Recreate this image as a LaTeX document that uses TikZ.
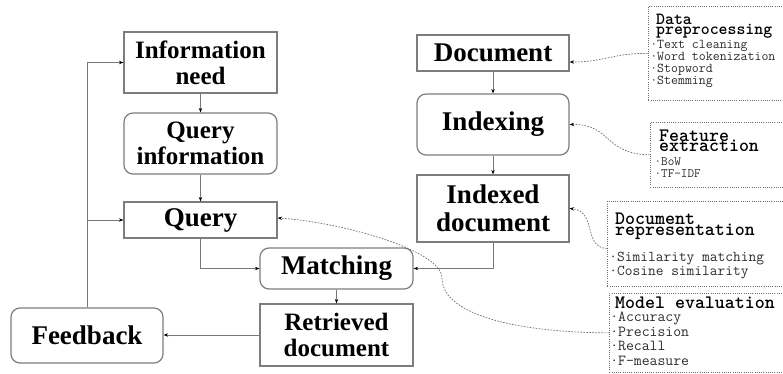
\documentclass[tikz,border=0pt]{standalone}
\usepackage{fontspec}
\setmainfont{Liberation Serif}
\newfontfamily\monoreg{Latin Modern Mono}
\newfontfamily\monobold{lmmonolt10-bold.otf}
\usetikzlibrary{arrows.meta}
\definecolor{boxgray}{RGB}{125,125,125}
\definecolor{linegray}{RGB}{120,120,120}
\definecolor{dotgray}{RGB}{110,110,110}
\definecolor{itemgray}{RGB}{45,45,45}
\newcommand\monof[2]{\monoreg\fontsize{#1}{#2}\selectfont\lineskiplimit=-50pt\relax}
\newcommand\monoh[2]{\monobold\fontsize{#1}{#2}\selectfont\lineskiplimit=-50pt\relax}
\begin{document}
\begin{tikzpicture}[x=1pt,y=-1pt,
  box/.style={draw=boxgray, line width=1.2pt, minimum width=153pt, inner sep=0pt, align=center},
  rbox/.style={box, rounded corners=9pt},
  big/.style={font=\fontsize{27}{28}\selectfont\bfseries},
  mid/.style={font=\fontsize{25}{26}\selectfont\bfseries},
  conn/.style={draw=linegray, line width=0.9pt, -{Stealth[length=4.5pt,width=3.5pt,color=black]}},
  dconn/.style={draw=dotgray, line width=0.7pt, dash pattern=on 1.6pt off 1.4pt, -{Stealth[length=4.5pt,width=3.5pt,color=black]}},
  abox/.style={draw=dotgray, line width=0.8pt, dash pattern=on 1pt off 1.2pt, inner sep=0pt, anchor=north west},
  ann/.style={anchor=base west, inner sep=0pt, align=left},
]
\path[use as bounding box, fill=white] (0,0) rectangle (783,374);
\clip (0,0) rectangle (783,374);

% main boxes
\node[box, mid, minimum height=61pt] (info) at (200.5,62.5) {Information\\need};
\node[rbox, mid, minimum height=61pt] (qinfo) at (200.5,143.5) {Query\\information};
\node[box, big, minimum height=36pt] (query) at (200.5,220) {Query};
\node[rbox, big, minimum width=152pt, minimum height=55pt] (feedback) at (87,335.5) {Feedback};
\node[box, big, minimum width=152pt, minimum height=36pt] (doc) at (493,53) {Document};
\node[rbox, big, minimum width=152pt, minimum height=61pt] (indexing) at (493,124.5) {Indexing};
\node[box, big, minimum width=152pt, minimum height=67pt] (idoc) at (493,208.5) {Indexed\\document};
\node[rbox, big, minimum height=41pt] (matching) at (336.5,268.5) {Matching};
\node[box, mid, minimum height=62pt] (retr) at (336.5,335) {Retrieved\\document};

% solid connectors
\draw[conn] (info.south) -- (qinfo.north);
\draw[conn] (qinfo.south) -- (query.north);
\draw[conn] (query.south) |- (matching.west);
\draw[conn] (doc.south) -- (indexing.north);
\draw[conn] (indexing.south) -- (idoc.north);
\draw[conn] (idoc.south) |- (matching.east);
\draw[conn] (matching.south) -- (retr.north);
\draw[conn] (retr.west) -- (retr.west -| feedback.east);
\draw[conn] (feedback.north) |- (info.west);
\draw[conn] (feedback.north |- query.west) -- (query.west);

% annotation boxes
\node[abox, minimum width=142pt, minimum height=94pt] (dp) at (648,6) {};
\node[abox, minimum width=140pt, minimum height=65pt] (fe) at (650,122) {};
\node[abox, minimum width=183pt, minimum height=85pt] (dr) at (607,201) {};
\node[abox, minimum width=181pt, minimum height=79pt] (me) at (609,293) {};

% annotation texts (anchored at the baseline of the last line)
\node[ann, font={\monoh{17}{9.8}}] (dph) at (656,34.5) {Data\\preprocessing};
\node[ann, font={\monof{13.5}{12.3}}, text=itemgray] (dpi) at (657,85) {\llap{·}Text cleaning\\\llap{·}Word tokenization\\\llap{·}Stopword\\\llap{·}Stemming};

\node[ann, font={\monoh{19}{9.5}}] (feh) at (659,151) {Feature\\extraction};
\node[ann, font={\monof{12.8}{12}}, text=itemgray] (fei) at (661,177) {\llap{·}BoW\\\llap{·}TF-IDF};

\node[ann, font={\monoh{19}{10.5}}] (drh) at (615,235) {Document\\representation};
\node[ann, font={\monof{15}{14}}, text=itemgray] (dri) at (617,275) {\llap{·}Similarity matching\\\llap{·}Cosine similarity};

\node[ann, font={\monoh{19}{10}}] (meh) at (615,308) {Model evaluation};
\node[ann, font={\monof{15.3}{14.6}}, text=itemgray] (mei) at (618,365.5) {\llap{·}Accuracy\\\llap{·}Precision\\\llap{·}Recall\\\llap{·}F-measure};

% dotted connectors
\draw[dconn] (dp.west) .. controls (612,53) and (606,62) .. ([yshift=-9pt]doc.east);
\draw[dconn] (fe.west) .. controls (603,154) and (612,124) .. (indexing.east);
\draw[dconn] ([yshift=-4.5pt]dr.west) .. controls (583,248) and (597,211) .. (idoc.east);
\draw[dconn] (me.west) .. controls (500,332) and (442,310) .. (442,278) .. controls (442,250) and (340,222) .. ([yshift=2pt]query.east);
\end{tikzpicture}
\end{document}
